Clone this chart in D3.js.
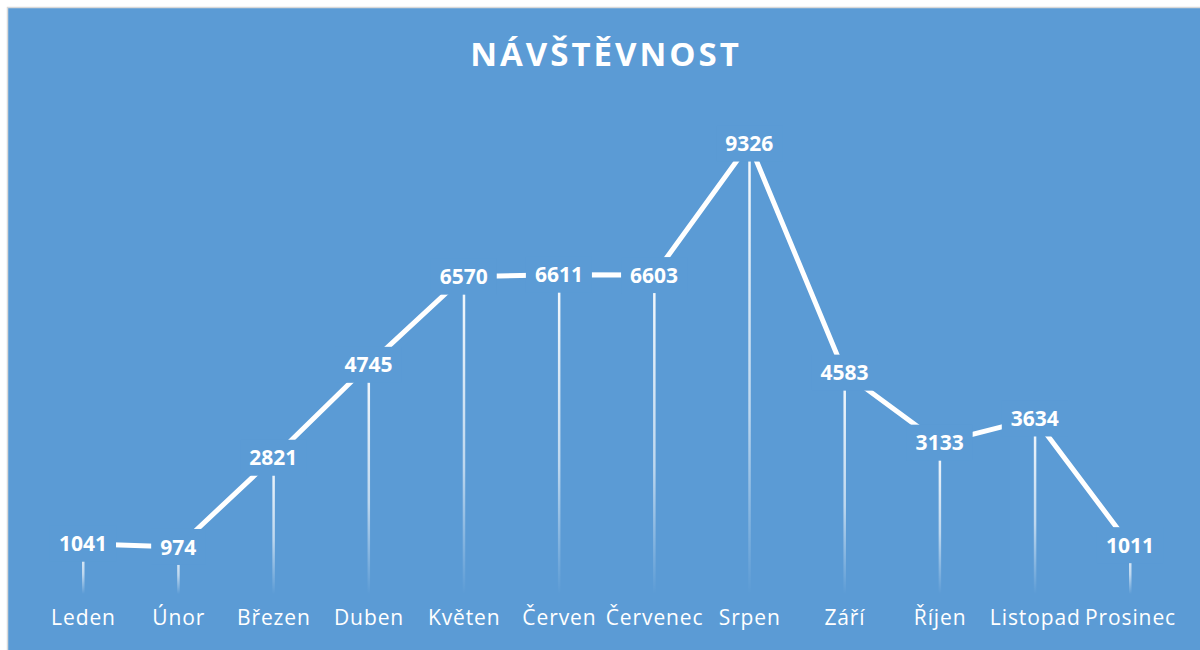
<!DOCTYPE html>
<html>
<head>
<meta charset="utf-8">
<script src="https://cdn.jsdelivr.net/npm/d3@7"></script>
<style>
  body { margin: 0; background: #fff; }
  svg { display: block; }
</style>
</head>
<body>
<svg width="1200" height="650"></svg>
<script>
const months = ["Leden", "Únor", "Březen", "Duben", "Květen", "Červen", "Červenec", "Srpen", "Září", "Říjen", "Listopad", "Prosinec"]
const visits = [1041, 974, 2821, 4745, 6570, 6611, 6603, 9326, 4583, 3133, 3634, 1011]
const title = "NÁVŠTĚVNOST"

const bg = "#5b9bd5"
const svg = d3.select("svg")

svg.append("rect")
  .attr("x", 7.5).attr("y", 7.5)
  .attr("width", 1200).attr("height", 660)
  .attr("fill", bg)
  .attr("stroke", "#d9d9d9")
  .attr("stroke-width", 1.5)

const x = d3.scalePoint().domain(months).range([83, 1130])
const y = d3.scaleLinear().domain([0, 10000]).range([594, 111])

const data = months.map((m, i) => ({ month: m, value: visits[i] }))

// fading gradient for drop lines
const grad = svg.append("defs").append("linearGradient")
  .attr("id", "fade")
  .attr("gradientUnits", "objectBoundingBox")
  .attr("x1", 0).attr("y1", 0).attr("x2", 0).attr("y2", 1)
grad.append("stop").attr("offset", "0%").attr("stop-color", "#fff").attr("stop-opacity", 0.95)
grad.append("stop").attr("offset", "60%").attr("stop-color", "#fff").attr("stop-opacity", 0.6)
grad.append("stop").attr("offset", "100%").attr("stop-color", "#fff").attr("stop-opacity", 0)

svg.append("text")
  .attr("x", 606).attr("y", 66)
  .attr("text-anchor", "middle")
  .attr("font-family", "Open Sans")
  .attr("font-weight", "bold")
  .attr("font-size", 33)
  .attr("letter-spacing", 3)
  .attr("fill", "#fff")
  .text(title)

// drop lines (rects so the gradient works on a vertical line)
svg.append("g").selectAll("rect")
  .data(data)
  .enter().append("rect")
  .attr("x", d => x(d.month) - 1)
  .attr("y", d => y(d.value))
  .attr("width", 2.5)
  .attr("height", d => y(0) - y(d.value))
  .attr("fill", "url(#fade)")

const line = d3.line()
  .x(d => x(d.month))
  .y(d => y(d.value))

svg.append("path")
  .datum(data)
  .attr("d", line)
  .attr("fill", "none")
  .attr("stroke", "#fff")
  .attr("stroke-width", 5)
  .attr("stroke-linejoin", "miter")

// data labels with background boxes that hide the line behind them
const labels = svg.append("g").selectAll("g")
  .data(data)
  .enter().append("g")
  .attr("transform", d => "translate(" + x(d.month) + "," + y(d.value) + ")")

labels.append("text")
  .attr("text-anchor", "middle")
  .attr("dy", "0.36em")
  .attr("font-family", "Open Sans")
  .attr("font-weight", "bold")
  .attr("font-size", 21)
  .attr("fill", "#fff")
  .text(d => d.value)
  .each(function () {
    let w = this.getComputedTextLength()
    d3.select(this.parentNode).insert("rect", "text")
      .attr("x", -w / 2 - 9)
      .attr("y", -18)
      .attr("width", w + 18)
      .attr("height", 36)
      .attr("fill", bg)
  })

const axis = svg.append("g")
  .attr("transform", "translate(0,610)")
  .call(d3.axisBottom(x).tickSize(0).tickPadding(0))
axis.select(".domain").remove()
axis.selectAll("text")
  .attr("font-family", "Open Sans")
  .attr("font-size", 21)
  .attr("letter-spacing", 0.9)
  .attr("fill", "#fff")
</script>
</body>
</html>
